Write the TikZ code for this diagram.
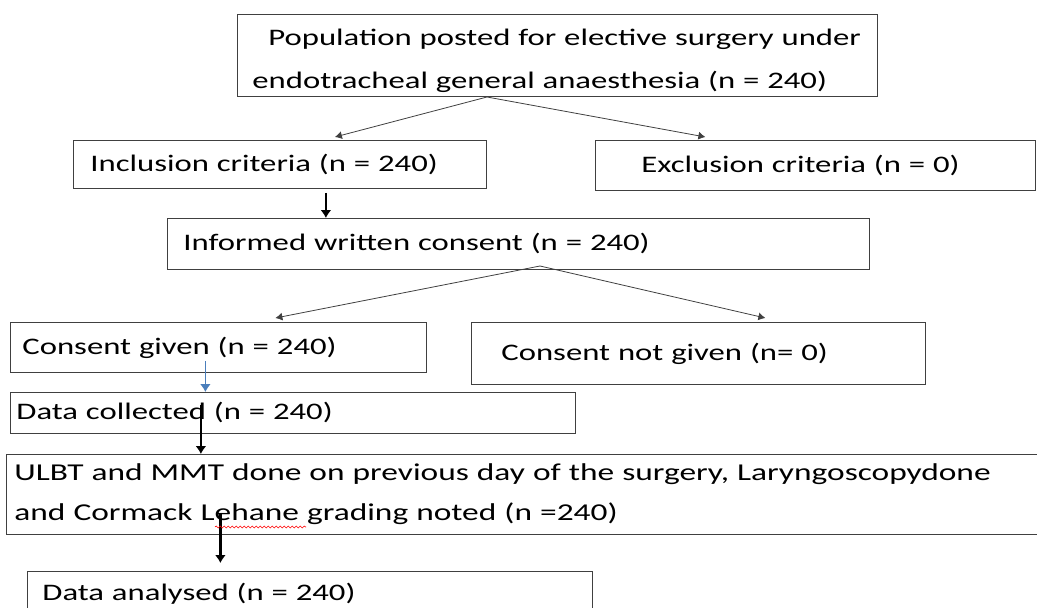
\documentclass[tikz,border=0pt]{standalone}
\usepackage{fontspec}
\setmainfont{Carlito}
\newfontfamily\widefont[FakeStretch=1.38]{Carlito}
\usetikzlibrary{calc,arrows.meta,decorations.pathmorphing}

\begin{document}
\begin{tikzpicture}[x=1pt,y=1pt,
    stage/.style={draw=black!75,line width=0.8pt,anchor=north west,align=left,inner ysep=0pt,font=\widefont\fontsize{23.7}{43}\selectfont},
    fork/.style={draw=black!75,line width=0.8pt,-{Latex[length=7pt,width=8pt]}},
    down/.style={draw=black,line width=2.2pt,-{Latex[length=8pt,width=11pt]}}]
  \useasboundingbox (0,0) rectangle (1037,-608);
  % boxes
  \node[stage,minimum width=640,minimum height=82,inner xsep=5,text width=630](pop)at(237,-14){\mbox{\rule{0pt}{27pt}\hspace*{26pt}Population posted for elective surgery under}\\\hspace*{10pt}endotracheal general anaesthesia (n = 240)};
  \node[stage,minimum width=413,minimum height=48,inner xsep=17,text width=379](incl)at(73,-140){Inclusion criteria (n = 240)};
  \node[stage,minimum width=440,minimum height=50,inner xsep=46,text width=348](excl)at(595,-140){Exclusion criteria (n = 0)};
  \node[stage,minimum width=702,minimum height=51,inner xsep=16,text width=670](inf)at(167,-218){Informed written consent (n = 240)};
  \node[stage,minimum width=416,minimum height=50,inner xsep=12,text width=392](given)at(10,-322){Consent given (n = 240)};
  \node[stage,minimum width=454,minimum height=62,inner xsep=30,text width=394](notgiven)at(471,-322){Consent not given (n= 0)};
  \node[stage,minimum width=565,minimum height=41,inner xsep=6,text width=553](coll)at(10,-392){Data collected (n = 240)};
  \node[stage,minimum width=1040,minimum height=80,inner xsep=8,text width=1024,font=\widefont\fontsize{24.2}{40}\selectfont](ulbt)at(6,-454){ULBT and MMT done on previous day of the surgery, Laryngoscopydone\\and Cormack Lehane grading noted (n =240)};
  \node[stage,minimum width=565,minimum height=45,inner xsep=15,text width=535](anal)at(27,-571){Data analysed (n = 240)};
  % forks
  \coordinate(split1)at(487,-97);
  \coordinate(split2)at(540,-266);
  \draw[fork](split1)--([shift={(55,3)}]incl.north);
  \draw[fork](split1)--([shift={(-110,3)}]excl.north);
  \draw[fork](split2)--([shift={(57,4)}]given.north);
  \draw[fork](split2)--([shift={(67,4)}]notgiven.north);
  % straight down
  \coordinate(from1)at([shift={(46,-4)}]incl.south);
  \coordinate(from2)at([shift={(-13,12)}]given.south);
  \coordinate(from3)at([shift={(-92,29)}]coll.south);
  \coordinate(from4)at([shift={(-306,22)}]ulbt.south);
  \draw[down](from1)--(from1 |- inf.north);
  \draw[down,line width=1.6pt,draw={rgb,255:red,74;green,126;blue,187}](from2)--(from2 |- coll.north);
  \draw[down](from3)--(from3 |- ulbt.north);
  \draw[down,shorten >=8pt](from4)--(from4 |- anal.north);
  % spelling mark
  \draw[red,line width=0.6pt,decorate,decoration={snake,amplitude=1pt,segment length=4pt}](215,-527)--(306,-527);
\end{tikzpicture}
\end{document}
